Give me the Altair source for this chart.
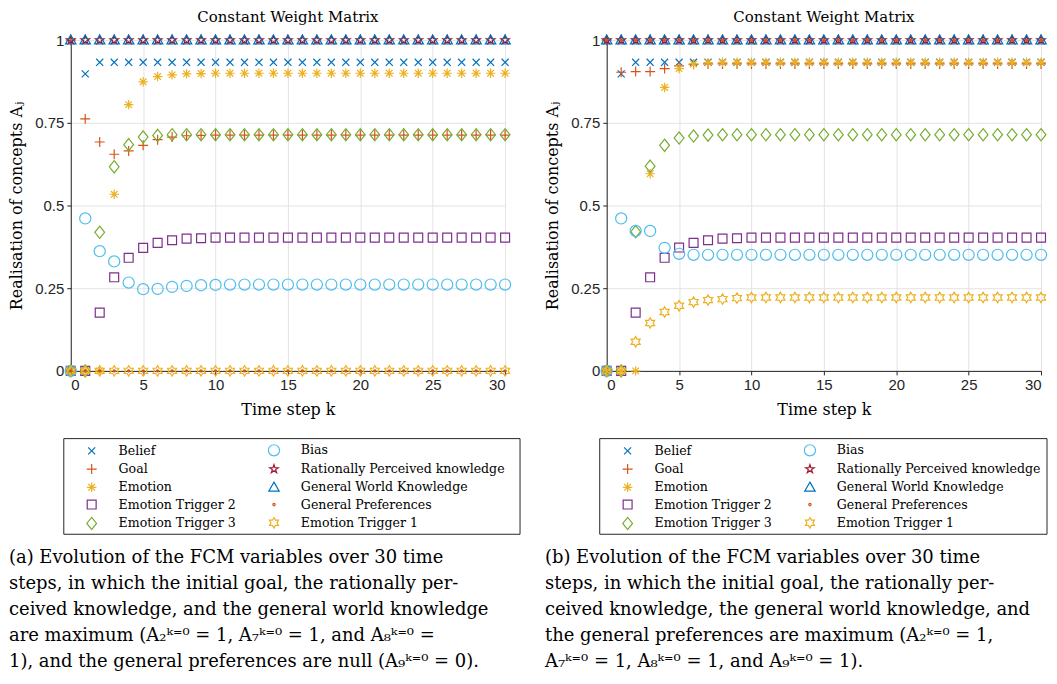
import math
import altair as alt
import pandas as pd

SERIF = "DejaVu Serif"
SANS = "Liberation Sans"

k_steps = [0, 1, 2, 3, 4, 5, 6, 7, 8, 9,
           10, 11, 12, 13, 14, 15, 16, 17, 18, 19,
           20, 21, 22, 23, 24, 25, 26, 27, 28, 29,
           30]

series_names = ["Belief", "Goal", "Emotion", "Emotion Trigger 2", "Emotion Trigger 3",
                "Bias", "Rationally Perceived knowledge", "General World Knowledge",
                "General Preferences", "Emotion Trigger 1"]

# ---------- panel (a) ----------
belief_a = [0.0, 0.898, 0.933, 0.933, 0.933, 0.933, 0.933, 0.933, 0.933, 0.933,
            0.933, 0.933, 0.933, 0.933, 0.933, 0.933, 0.933, 0.933, 0.933, 0.933,
            0.933, 0.933, 0.933, 0.933, 0.933, 0.933, 0.933, 0.933, 0.933, 0.933,
            0.933]
goal_a = [1.0, 0.762, 0.692, 0.655, 0.665, 0.682, 0.699, 0.707, 0.711, 0.712,
          0.713, 0.713, 0.713, 0.713, 0.713, 0.713, 0.713, 0.713, 0.713, 0.713,
          0.713, 0.713, 0.713, 0.713, 0.713, 0.713, 0.713, 0.713, 0.713, 0.713,
          0.713]
emotion_a = [0.0, 0.0, 0.0, 0.534, 0.805, 0.874, 0.890, 0.895, 0.898, 0.899,
             0.900, 0.900, 0.900, 0.900, 0.900, 0.900, 0.900, 0.900, 0.900, 0.900,
             0.900, 0.900, 0.900, 0.900, 0.900, 0.900, 0.900, 0.900, 0.900, 0.900,
             0.900]
et2_a = [0.0, 0.0, 0.176, 0.283, 0.342, 0.372, 0.387, 0.395, 0.400, 0.401,
         0.403, 0.403, 0.403, 0.403, 0.403, 0.403, 0.403, 0.403, 0.403, 0.403,
         0.403, 0.403, 0.403, 0.403, 0.403, 0.403, 0.403, 0.403, 0.403, 0.403,
         0.403]
et3_a = [0.0, 0.0, 0.419, 0.617, 0.684, 0.707, 0.712, 0.714, 0.714, 0.714,
         0.714, 0.714, 0.714, 0.714, 0.714, 0.714, 0.714, 0.714, 0.714, 0.714,
         0.714, 0.714, 0.714, 0.714, 0.714, 0.714, 0.714, 0.714, 0.714, 0.714,
         0.714]
bias_a = [0.0, 0.461, 0.362, 0.331, 0.267, 0.247, 0.248, 0.254, 0.257, 0.259,
          0.260, 0.261, 0.261, 0.261, 0.261, 0.261, 0.261, 0.261, 0.261, 0.261,
          0.261, 0.261, 0.261, 0.261, 0.261, 0.261, 0.261, 0.261, 0.261, 0.261,
          0.261]
rpk_a = [1.0, 1.0, 1.0, 1.0, 1.0, 1.0, 1.0, 1.0, 1.0, 1.0,
         1.0, 1.0, 1.0, 1.0, 1.0, 1.0, 1.0, 1.0, 1.0, 1.0,
         1.0, 1.0, 1.0, 1.0, 1.0, 1.0, 1.0, 1.0, 1.0, 1.0,
         1.0]
gwk_a = [1.0, 1.0, 1.0, 1.0, 1.0, 1.0, 1.0, 1.0, 1.0, 1.0,
         1.0, 1.0, 1.0, 1.0, 1.0, 1.0, 1.0, 1.0, 1.0, 1.0,
         1.0, 1.0, 1.0, 1.0, 1.0, 1.0, 1.0, 1.0, 1.0, 1.0,
         1.0]
gp_a = [0.0, 0.0, 0.0, 0.0, 0.0, 0.0, 0.0, 0.0, 0.0, 0.0,
        0.0, 0.0, 0.0, 0.0, 0.0, 0.0, 0.0, 0.0, 0.0, 0.0,
        0.0, 0.0, 0.0, 0.0, 0.0, 0.0, 0.0, 0.0, 0.0, 0.0,
        0.0]
et1_a = [0.0, 0.0, 0.0, 0.0, 0.0, 0.0, 0.0, 0.0, 0.0, 0.0,
         0.0, 0.0, 0.0, 0.0, 0.0, 0.0, 0.0, 0.0, 0.0, 0.0,
         0.0, 0.0, 0.0, 0.0, 0.0, 0.0, 0.0, 0.0, 0.0, 0.0,
         0.0]

# ---------- panel (b) ----------
belief_b = [0.0, 0.898, 0.933, 0.933, 0.933, 0.933, 0.933, 0.933, 0.933, 0.933,
            0.933, 0.933, 0.933, 0.933, 0.933, 0.933, 0.933, 0.933, 0.933, 0.933,
            0.933, 0.933, 0.933, 0.933, 0.933, 0.933, 0.933, 0.933, 0.933, 0.933,
            0.933]
goal_b = [1.0, 0.903, 0.905, 0.905, 0.914, 0.922, 0.927, 0.928, 0.928, 0.928,
          0.928, 0.928, 0.928, 0.928, 0.928, 0.928, 0.928, 0.928, 0.928, 0.928,
          0.928, 0.928, 0.928, 0.928, 0.928, 0.928, 0.928, 0.928, 0.928, 0.928,
          0.928]
emotion_b = [0.0, 0.0, 0.0, 0.596, 0.857, 0.914, 0.928, 0.932, 0.933, 0.933,
             0.933, 0.933, 0.933, 0.933, 0.933, 0.933, 0.933, 0.933, 0.933, 0.933,
             0.933, 0.933, 0.933, 0.933, 0.933, 0.933, 0.933, 0.933, 0.933, 0.933,
             0.933]
et2_b = [0.0, 0.0, 0.176, 0.283, 0.342, 0.373, 0.387, 0.395, 0.400, 0.401,
         0.403, 0.403, 0.403, 0.403, 0.403, 0.403, 0.403, 0.403, 0.403, 0.403,
         0.403, 0.403, 0.403, 0.403, 0.403, 0.403, 0.403, 0.403, 0.403, 0.403,
         0.403]
et3_b = [0.0, 0.0, 0.421, 0.619, 0.682, 0.704, 0.710, 0.713, 0.714, 0.714,
         0.714, 0.714, 0.714, 0.714, 0.714, 0.714, 0.714, 0.714, 0.714, 0.714,
         0.714, 0.714, 0.714, 0.714, 0.714, 0.714, 0.714, 0.714, 0.714, 0.714,
         0.714]
bias_b = [0.0, 0.461, 0.423, 0.423, 0.372, 0.354, 0.351, 0.351, 0.351, 0.351,
          0.351, 0.351, 0.351, 0.351, 0.351, 0.351, 0.351, 0.351, 0.351, 0.351,
          0.351, 0.351, 0.351, 0.351, 0.351, 0.351, 0.351, 0.351, 0.351, 0.351,
          0.351]
rpk_b = [1.0, 1.0, 1.0, 1.0, 1.0, 1.0, 1.0, 1.0, 1.0, 1.0,
         1.0, 1.0, 1.0, 1.0, 1.0, 1.0, 1.0, 1.0, 1.0, 1.0,
         1.0, 1.0, 1.0, 1.0, 1.0, 1.0, 1.0, 1.0, 1.0, 1.0,
         1.0]
gwk_b = [1.0, 1.0, 1.0, 1.0, 1.0, 1.0, 1.0, 1.0, 1.0, 1.0,
         1.0, 1.0, 1.0, 1.0, 1.0, 1.0, 1.0, 1.0, 1.0, 1.0,
         1.0, 1.0, 1.0, 1.0, 1.0, 1.0, 1.0, 1.0, 1.0, 1.0,
         1.0]
gp_b = [1.0, 1.0, 1.0, 1.0, 1.0, 1.0, 1.0, 1.0, 1.0, 1.0,
        1.0, 1.0, 1.0, 1.0, 1.0, 1.0, 1.0, 1.0, 1.0, 1.0,
        1.0, 1.0, 1.0, 1.0, 1.0, 1.0, 1.0, 1.0, 1.0, 1.0,
        1.0]
et1_b = [0.0, 0.0, 0.088, 0.145, 0.178, 0.197, 0.208, 0.214, 0.217, 0.220,
         0.222, 0.222, 0.222, 0.222, 0.222, 0.222, 0.222, 0.222, 0.222, 0.222,
         0.222, 0.222, 0.222, 0.222, 0.222, 0.222, 0.222, 0.222, 0.222, 0.222,
         0.222]

caption_a = ("(a) Evolution of the FCM variables over 30 time\n"
             "steps, in which the initial goal, the rationally per-\n"
             "ceived knowledge, and the general world knowledge\n"
             "are maximum (A\u2082\u1d4f\u207c\u2070 = 1, A\u2087\u1d4f\u207c\u2070 = 1, and A\u2088\u1d4f\u207c\u2070 =\n"
             "1), and the general preferences are null (A\u2089\u1d4f\u207c\u2070 = 0).")
caption_b = ("(b) Evolution of the FCM variables over 30 time\n"
             "steps, in which the initial goal, the rationally per-\n"
             "ceived knowledge, the general world knowledge, and\n"
             "the general preferences are maximum (A\u2082\u1d4f\u207c\u2070 = 1,\n"
             "A\u2087\u1d4f\u207c\u2070 = 1, A\u2088\u1d4f\u207c\u2070 = 1, and A\u2089\u1d4f\u207c\u2070 = 1).")


def star(n, r_in):
    pts = []
    for i in range(2 * n):
        ang = -math.pi / 2 + i * math.pi / n
        r = 1.0 if i % 2 == 0 else r_in
        pts.append(f"{r * math.cos(ang):.3f},{r * math.sin(ang):.3f}")
    return "M" + "L".join(pts) + "Z"


style = {
    "Belief": ("#0072BD", "M-1,-1L1,1M-1,1L1,-1", 50),
    "Goal": ("#D95319", "M-1,0L1,0M0,-1L0,1", 100),
    "Emotion": ("#EDB120", "M-1,0L1,0M0,-1L0,1M-0.7,-0.7L0.7,0.7M-0.7,0.7L0.7,-0.7", 90),
    "Emotion Trigger 2": ("#7E2F8E", "square", 80),
    "Emotion Trigger 3": ("#77AC30", "M0,-1L0.8,0L0,1L-0.8,0Z", 150),
    "Bias": ("#4DBEEE", "circle", 125),
    "Rationally Perceived knowledge": ("#A2142F", star(5, 0.382), 80),
    "General World Knowledge": ("#0072BD", "M0,-1L1,0.73L-1,0.73Z", 110),
    "General Preferences": ("#D95319", "circle", 5),
    "Emotion Trigger 1": ("#EDB120", star(6, 0.577), 110),
}


def make_df(lists):
    rows = []
    for name, vals in zip(series_names, lists):
        for kk, v in zip(k_steps, vals):
            rows.append({"k": kk, "value": v, "series": name})
    return pd.DataFrame(rows)


df_a = make_df([belief_a, goal_a, emotion_a, et2_a, et3_a, bias_a, rpk_a, gwk_a, gp_a, et1_a])
df_b = make_df([belief_b, goal_b, emotion_b, et2_b, et3_b, bias_b, rpk_b, gwk_b, gp_b, et1_b])

W, H = 436, 332


def panel(df, caption, box_right):
    leg = alt.Legend(orient="none", legendX=14, legendY=405, columns=2, title=None,
                     labelFont=SERIF, labelFontSize=12.6, labelColor="#000000", labelLimit=400,
                     symbolStrokeWidth=1.2, rowPadding=2.3, columnPadding=30,
                     labelOffset=20, padding=0)
    pts = alt.Chart(df).mark_point(filled=False, strokeWidth=1.2, opacity=1).encode(
        x=alt.X("k:Q", scale=alt.Scale(domain=[0, 30], nice=False, zero=False),
                axis=alt.Axis(values=[0, 5, 10, 15, 20, 25, 30], title="Time step k")),
        y=alt.Y("value:Q", scale=alt.Scale(domain=[0, 1], nice=False),
                axis=alt.Axis(values=[0, 0.25, 0.5, 0.75, 1], format=".2~f",
                              title="Realisation of concepts A\u2c7c")),
        color=alt.Color("series:N", legend=leg,
                        scale=alt.Scale(domain=series_names, range=[style[s][0] for s in series_names])),
        shape=alt.Shape("series:N", legend=leg,
                        scale=alt.Scale(domain=series_names, range=[style[s][1] for s in series_names])),
        size=alt.Size("series:N", legend=leg,
                      scale=alt.Scale(type="ordinal", domain=series_names,
                                      range=[style[s][2] for s in series_names])),
        fill=alt.condition(alt.datum.series == "General Preferences",
                           alt.value("#D95319"), alt.value("transparent")),
    )
    one = pd.DataFrame({"t": [caption]})
    box = alt.Chart(one).mark_rect(fillOpacity=0, stroke="#262626", strokeWidth=1).encode(
        x=alt.value(-7), x2=alt.value(box_right), y=alt.value(400), y2=alt.value(496))
    cap = alt.Chart(one).mark_text(align="left", baseline="top", lineBreak="\n", lineHeight=26,
                                   font=SERIF, fontSize=18, color="#000000").encode(
        x=alt.value(-62), y=alt.value(511), text="t:N")
    return alt.layer(pts, box, cap).properties(
        width=W, height=H,
        title=alt.Title("Constant Weight Matrix", font=SERIF, fontSize=15, fontWeight="normal",
                        color="#000000", offset=7.5))


chart = alt.hconcat(panel(df_a, caption_a, 451), panel(df_b, caption_b, 442), spacing=23).resolve_scale(
    color="independent", shape="independent", size="independent").resolve_legend(
    color="independent", shape="independent", size="independent").properties(
    padding=0).configure_view(stroke=None).configure_axis(
    domainColor="#262626", tickColor="#262626", labelColor="#262626", labelFont=SANS,
    labelFontSize=15, titleFont=SERIF, titleFontSize=16, titleFontWeight="normal",
    titleColor="#000000", gridColor="#e3e3e3", tickSize=4, labelPadding=3
).configure_axisY(titlePadding=10).configure_axisX(titlePadding=9)

chart.save("out.html", embed_options={"renderer": "svg", "actions": False})
